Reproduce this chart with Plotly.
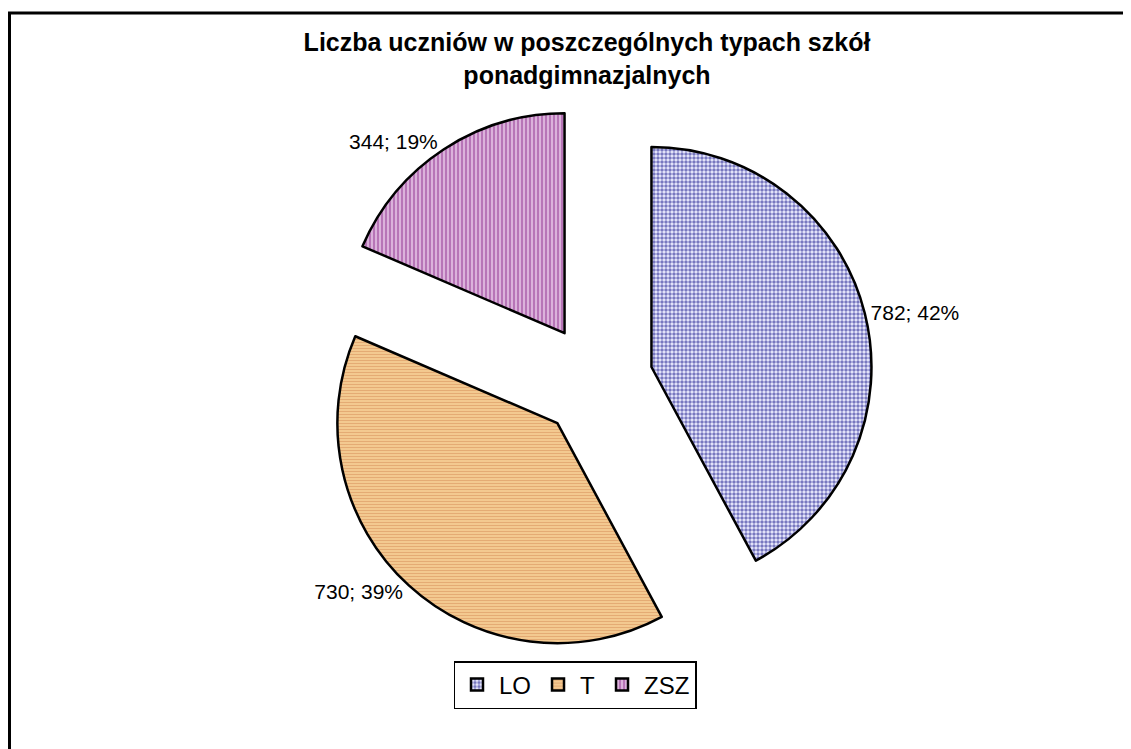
import plotly.graph_objects as go

categories = ["LO", "T", "ZSZ"]
values = [782, 730, 344]
title_text = "Liczba uczniów w poszczególnych typach szkół<br>ponadgimnazjalnych"

W, H = 1131, 749
OFF = 8  # the page body offsets the figure by 8 px
cx, cy, r, pull = 596 - OFF, 381 - OFF, 220, 0.26
box = r * (2 + 2 * pull)

fig = go.Figure(go.Pie(
    labels=categories,
    values=values,
    sort=False,
    direction="clockwise",
    rotation=0,
    pull=[pull, pull, pull],
    texttemplate="%{value}; %{percent:.0%}",
    textposition="outside",
    textfont=dict(family="Liberation Sans, Arial", size=21, color="black"),
    marker=dict(
        colors=["#e6e6ff", "#f8d296", "#f4dcf4"],
        line=dict(color="black", width=2.5),
        pattern=dict(
            shape=[".", "-", "|"],
            fgcolor=["#000080", "#d0804c", "#780878"],
            bgcolor=["#eeeeff", "#f9d69c", "#f6e2f6"],
            size=[4, 3, 4],
            solidity=[0.6, 0.55, 0.72],
            fillmode="overlay",
        ),
    ),
    domain=dict(x=[(cx - box / 2) / W, (cx + box / 2) / W],
                y=[1 - (cy + box / 2) / H, 1 - (cy - box / 2) / H]),
    showlegend=True,
    hoverinfo="label+value+percent",
))

fig.update_layout(
    width=W, height=H,
    margin=dict(l=0, r=0, t=0, b=0, autoexpand=False),
    paper_bgcolor="white",
    plot_bgcolor="white",
    title=dict(text=title_text, x=(587 - OFF) / W, xanchor="center",
               y=1 - (51 - OFF) / H, yanchor="top",
               font=dict(family="Liberation Sans, Arial", size=25, color="black", weight="bold")),
    legend=dict(orientation="h", x=(575 - OFF) / W, xanchor="center",
                y=1 - (685 - OFF) / H, yanchor="middle",
                bordercolor="black", borderwidth=1.5, bgcolor="white",
                font=dict(family="Liberation Sans, Arial", size=24, color="black"),
                itemwidth=34, traceorder="normal"),
    shapes=[dict(type="rect", xref="paper", yref="paper",
                 x0=1.5 / W, x1=1.02, y0=-0.02, y1=1 - (13 - OFF) / H,
                 line=dict(color="black", width=3), fillcolor="rgba(0,0,0,0)")],
)

fig.write_html("out.html")
